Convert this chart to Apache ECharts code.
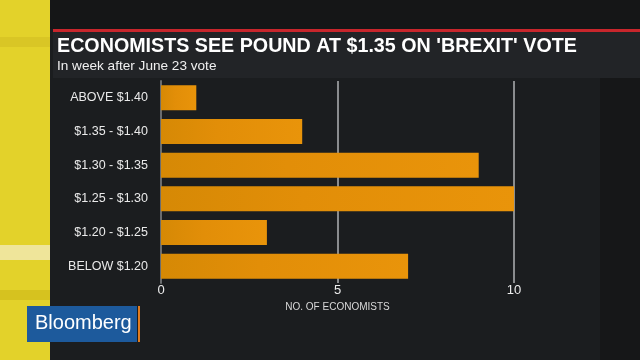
<!DOCTYPE html>
<html><head><meta charset="utf-8">
<script src="https://cdn.jsdelivr.net/npm/echarts@6/dist/echarts.min.js"></script>
<style>html,body{margin:0;padding:0;background:#1b1d1f;}#c{width:640px;height:360px;}</style>
</head><body><div id="c"></div>
<script>
const categories = ['ABOVE $1.40', '$1.35 - $1.40', '$1.30 - $1.35', '$1.25 - $1.30', '$1.20 - $1.25', 'BELOW $1.20'];
const economists = [1, 4, 9, 10, 3, 7];
const xTicks = [0, 5, 10];
const titleText = "ECONOMISTS SEE POUND AT $1.35 ON 'BREXIT' VOTE";
const subtitleText = 'In week after June 23 vote';
const xAxisName = 'NO. OF ECONOMISTS';

const chart = echarts.init(document.getElementById('c'), null, {renderer: 'canvas'});
const barGrad = new echarts.graphic.LinearGradient(0, 0, 1, 0, [
  {offset: 0, color: '#d68905'}, {offset: 0.4, color: '#e28e08'}, {offset: 1, color: '#e9940a'}
]);
chart.setOption({
  backgroundColor: '#1b1d1f',
  animation: false,
  graphic: [
    {type: 'rect', z: -10, shape: {x: 0, y: 0, width: 640, height: 29}, style: {fill: '#151617'}},
    {type: 'rect', z: -10, shape: {x: 600, y: 78, width: 40, height: 282}, style: {fill: '#161718'}},
    {type: 'rect', z: -9, shape: {x: 0, y: 0, width: 50, height: 360}, style: {fill: '#e3d22a'}},
    {type: 'rect', z: -8, shape: {x: 0, y: 37, width: 50, height: 10}, style: {fill: '#d9c625'}},
    {type: 'rect', z: -8, shape: {x: 0, y: 245, width: 50, height: 15}, style: {fill: '#efe59a'}},
    {type: 'rect', z: -8, shape: {x: 0, y: 290, width: 50, height: 10}, style: {fill: '#d6c21f'}},
    {type: 'rect', z: -7, shape: {x: 53, y: 29, width: 587, height: 3}, style: {fill: '#c8262c'}},
    {type: 'rect', z: -7, shape: {x: 53, y: 32, width: 587, height: 46}, style: {fill: '#222427'}},
    {type: 'text', z: 5, left: 57, top: 37, style: {text: titleText, fill: '#ffffff', font: 'bold 19.7px "Liberation Sans Narrow", "Liberation Sans", Arial, sans-serif'}},
    {type: 'text', z: 5, left: 57, top: 59, style: {text: subtitleText, fill: '#f0f0f0', font: '13.6px "Liberation Sans Narrow", "Liberation Sans", Arial, sans-serif'}},
    {type: 'rect', z: 5, shape: {x: 27, y: 306, width: 110, height: 36}, style: {fill: '#1d5a9c'}},
    {type: 'rect', z: 5, shape: {x: 138, y: 306, width: 2, height: 36}, style: {fill: '#e07b1f'}},
    {type: 'text', z: 6, left: 35, top: 313, style: {text: 'Bloomberg', fill: '#ffffff', font: '20px "Liberation Sans", Arial, sans-serif'}}
  ],
  grid: {left: 161, right: 126, top: 81, bottom: 77, containLabel: false},
  xAxis: {
    type: 'value', min: 0, max: 10, interval: 5,
    name: xAxisName, nameLocation: 'middle', nameGap: 15,
    nameTextStyle: {color: '#d8d8d8', fontSize: 10, fontFamily: 'Liberation Sans, Arial'},
    axisLine: {show: false}, axisTick: {show: false},
    axisLabel: {color: '#ececec', fontSize: 13, margin: 1, fontFamily: 'Liberation Sans, Arial',
      formatter: v => xTicks.includes(v) ? String(v) : ''},
    splitLine: {show: true, lineStyle: {color: '#8a8c8e', width: 2}}
  },
  yAxis: {
    type: 'category', data: categories, inverse: true,
    axisLine: {show: true, lineStyle: {color: '#6a6c6e', width: 2}},
    axisTick: {show: false},
    axisLabel: {color: '#eaeaea', fontSize: 12.5, margin: 13, fontFamily: 'Liberation Sans, Arial'}
  },
  series: [{
    type: 'bar', data: economists, barWidth: 25,
    itemStyle: {color: barGrad}
  }]
});
</script></body></html>
